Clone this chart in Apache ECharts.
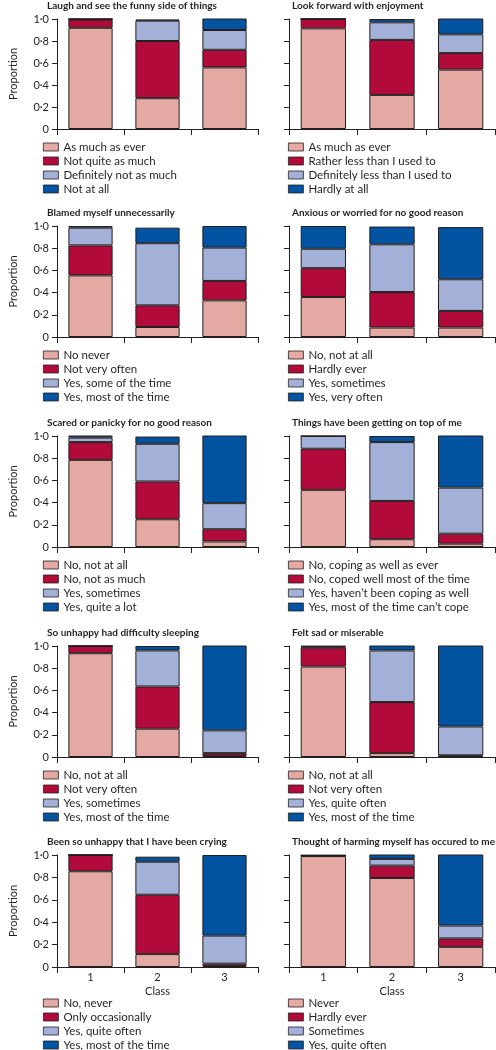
<!DOCTYPE html>
<html><head><meta charset="utf-8">
<script src="https://cdn.jsdelivr.net/npm/echarts@6/dist/echarts.min.js"></script>
<style>
html,body{margin:0;padding:0;background:#fff;width:496px;height:1050px;overflow:hidden}
.p{position:absolute}
</style>
</head><body>
<script>
const classes = ['1', '2', '3'];
const yTicks = ['0', '0·2', '0·4', '0·6', '0·8', '1·0'];
const panelTitles = [
  'Laugh and see the funny side of things',
  'Look forward with enjoyment',
  'Blamed myself unnecessarily',
  'Anxious or worried for no good reason',
  'Scared or panicky for no good reason',
  'Things have been getting on top of me',
  'So unhappy had difficulty sleeping',
  'Felt sad or miserable',
  'Been so unhappy that I have been crying',
  'Thought of harming myself has occured to me'
];
const legendLabels = [
  ['As much as ever', 'Not quite as much', 'Definitely not as much', 'Not at all'],
  ['As much as ever', 'Rather less than I used to', 'Definitely less than I used to', 'Hardly at all'],
  ['No never', 'Not very often', 'Yes, some of the time', 'Yes, most of the time'],
  ['No, not at all', 'Hardly ever', 'Yes, sometimes', 'Yes, very often'],
  ['No, not at all', 'No, not as much', 'Yes, sometimes', 'Yes, quite a lot'],
  ['No, coping as well as ever', 'No, coped well most of the time', 'Yes, haven\u2019t been coping as well', 'Yes, most of the time can\u2019t cope'],
  ['No, not at all', 'Not very often', 'Yes, sometimes', 'Yes, most of the time'],
  ['No, not at all', 'Not very often', 'Yes, quite often', 'Yes, most of the time'],
  ['No, never', 'Only occasionally', 'Yes, quite often', 'Yes, most of the time'],
  ['Never', 'Hardly ever', 'Sometimes', 'Yes, quite often']
];
// proportions per panel, for classes 1,2,3 (bottom to top: level1..level4)
const level1 = [
  [0.92, 0.28, 0.56], [0.915, 0.31, 0.54], [0.555, 0.09, 0.33], [0.36, 0.085, 0.085],
  [0.785, 0.25, 0.05], [0.515, 0.07, 0.03], [0.935, 0.255, 0.01], [0.815, 0.035, 0.005],
  [0.855, 0.115, 0.01], [0.99, 0.795, 0.18]
];
const level2 = [
  [0.075, 0.52, 0.16], [0.085, 0.50, 0.15], [0.27, 0.195, 0.175], [0.26, 0.32, 0.15],
  [0.16, 0.34, 0.11], [0.37, 0.345, 0.09], [0.065, 0.38, 0.025], [0.17, 0.46, 0.01],
  [0.145, 0.53, 0.02], [0.005, 0.11, 0.075]
];
const level3 = [
  [0.005, 0.185, 0.18], [0, 0.16, 0.17], [0.16, 0.56, 0.30], [0.175, 0.43, 0.285],
  [0.04, 0.34, 0.235], [0.115, 0.53, 0.415], [0, 0.325, 0.205], [0.01, 0.465, 0.26],
  [0, 0.295, 0.25], [0, 0.06, 0.115]
];
const level4 = [
  [0, 0.01, 0.11], [0, 0.03, 0.15], [0.015, 0.14, 0.195], [0.205, 0.16, 0.47],
  [0.02, 0.065, 0.615], [0, 0.055, 0.475], [0, 0.04, 0.77], [0.005, 0.05, 0.735],
  [0, 0.045, 0.72], [0.005, 0.045, 0.64]
];
const levels = [level1, level2, level3, level4];
const colors = ['#E3A9A2', '#B20A3A', '#A3B0D8', '#0253A2'];
const ink = '#231F20';
const font = 'Lato, "Liberation Sans", sans-serif';

const rowTops = [0, 207, 417, 627, 836];
const gridH = [110, 111, 111, 111, 112];
const legendTops = [141, 142, 142, 142, 161];

for (let i = 0; i < 10; i++) {
  const row = Math.floor(i / 2), col = i % 2;
  const div = document.createElement('div');
  div.className = 'p';
  const left = col ? 248 : 0, width = col ? 248 : 262;
  div.style.left = left + 'px';
  div.style.top = rowTops[row] + 'px';
  div.style.width = width + 'px';
  div.style.height = '240px';
  document.body.appendChild(div);
  const chart = echarts.init(div, null, { renderer: 'canvas' });
  const gl = col ? 41 : 44, gw = col ? 206 : 214;
  const isLast = row === 4;
  const series = levels.map((lv, k) => ({
    name: legendLabels[i][k],
    type: 'bar',
    stack: 'all',
    barWidth: '66%',
    data: lv[i],
    itemStyle: { color: colors[k], borderColor: ink, borderWidth: 1 },
    emphasis: { disabled: true },
    animation: false
  }));
  chart.setOption({
    animation: false,
    title: {
      text: panelTitles[i], left: gl + 3, top: 1, padding: 0,
      textStyle: { fontFamily: font, fontSize: 10, fontWeight: 'bold', color: ink }
    },
    grid: { left: gl, top: 19, width: gw, height: gridH[row] },
    legend: {
      orient: 'vertical', left: gl - 1, top: legendTops[row], padding: 0,
      itemWidth: 15, itemHeight: 8, itemGap: 2,
      icon: 'rect',
      itemStyle: { borderColor: ink, borderWidth: 0.8 },
      textStyle: { fontFamily: font, fontSize: 11.5, color: ink },
      selectedMode: false,
      data: legendLabels[i]
    },
    xAxis: {
      type: 'category', data: classes,
      axisLine: { lineStyle: { color: ink, width: 1 } },
      axisTick: { show: true, length: 6, lineStyle: { color: ink } },
      axisLabel: { show: isLast, fontFamily: font, fontSize: 11, color: ink, margin: 5 },
      name: isLast ? 'Class' : '', nameLocation: 'middle', nameGap: 19,
      nameTextStyle: { fontFamily: font, fontSize: 11, color: ink }
    },
    yAxis: {
      type: 'value', min: 0, max: 1, interval: 0.2,
      axisLine: { show: true, lineStyle: { color: ink, width: 1 } },
      axisTick: { show: true, length: 5, lineStyle: { color: ink } },
      splitLine: { show: false },
      axisLabel: {
        show: col === 0, fontFamily: font, fontSize: 11, color: ink, margin: 8,
        formatter: v => yTicks[Math.round(v * 5)]
      },
      name: col === 0 ? 'Proportion' : '', nameLocation: 'middle', nameGap: 38,
      nameTextStyle: { fontFamily: font, fontSize: 11, color: ink }
    },
    series: series
  });
}
</script>
</body></html>
